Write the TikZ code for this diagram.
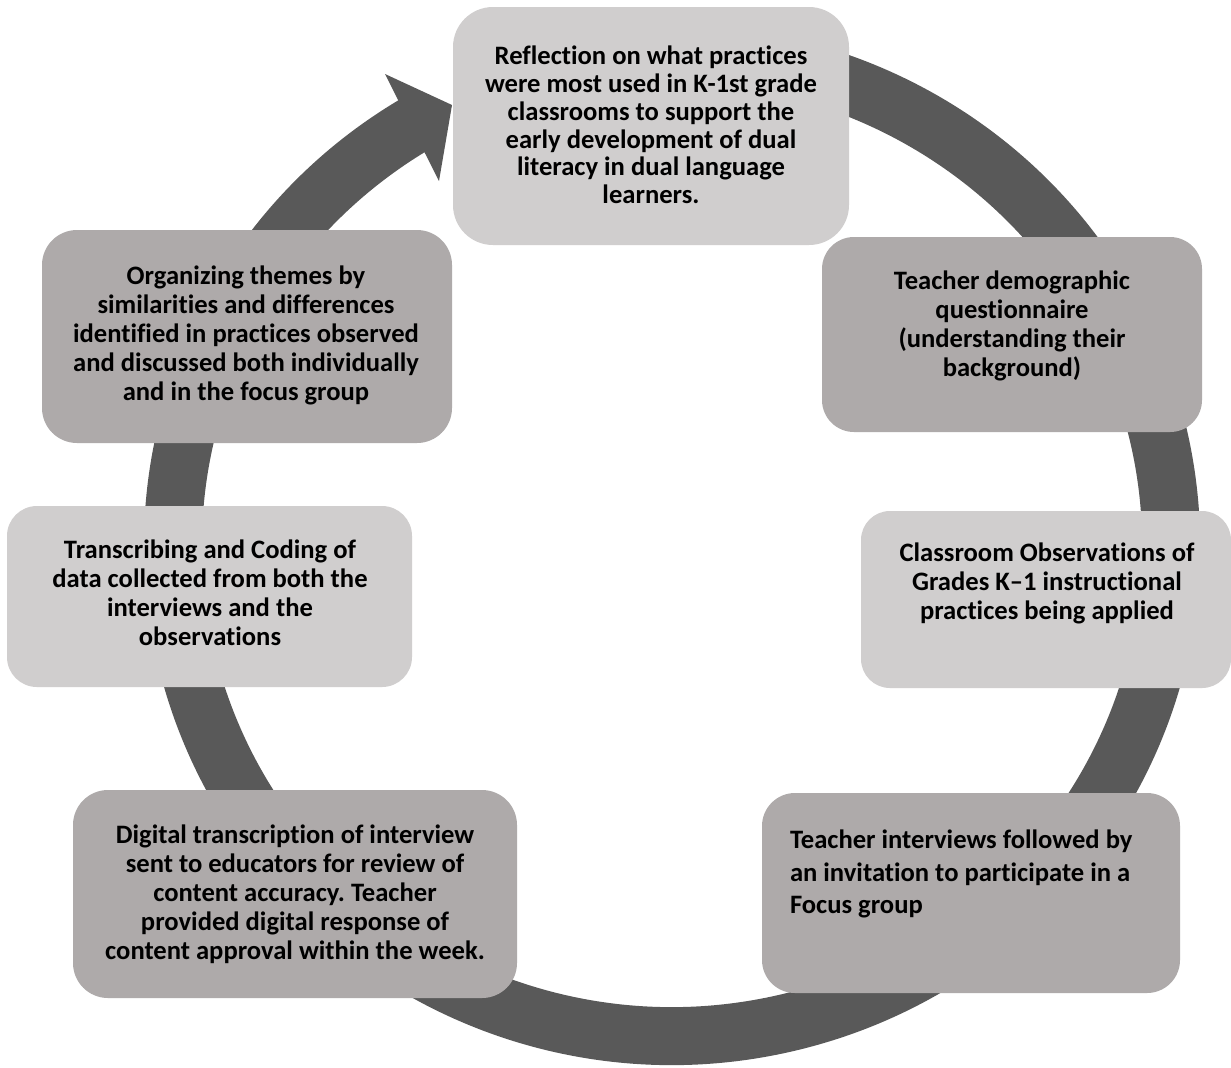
\documentclass[tikz,border=0pt]{standalone}
\usepackage{fontspec}
\setmainfont{Carlito}[Ligatures={NoCommon}]
\frenchspacing
\definecolor{ringcol}{HTML}{595959}
\definecolor{lightbox}{HTML}{D0CECE}
\definecolor{darkbox}{HTML}{AEAAAA}
\tikzset{
  ringline/.style={draw=ringcol, line width=29pt, line cap=butt},
  box/.style={draw=none, inner sep=0pt, outer sep=0pt},
  txt/.style={inner sep=0pt, outer sep=0pt, align=center, text=black,
    font=\bfseries\fontsize{13.3pt}{14.5pt}\selectfont},
}
\begin{document}
\begin{tikzpicture}[x=0.5pt, y=0.5pt]
\useasboundingbox (0,0) rectangle (1231,-1067);
\fill[white] (0,0) rectangle (1231,-1067);
% circular arrow
\coordinate (C) at (672,-545);
\draw[ringline] (C) ++(105:249.5pt and 245.5pt)
  arc[start angle=105, end angle=-239.5, x radius=249.5pt, y radius=245.5pt];
\coordinate (h1) at (385,-74);
\coordinate (h2) at (452,-105);
\coordinate (h3) at (439,-181);
\fill[ringcol] (h1) -- (h2) -- (h3) -- cycle;
% boxes
\node[box, fill=lightbox, minimum width=198pt, minimum height=119pt, rounded corners=20pt] (refl) at (651,-126) {};
\node[box, fill=darkbox, minimum width=190pt, minimum height=97.5pt, rounded corners=16pt] (demo) at (1012,-334.5) {};
\node[box, fill=lightbox, minimum width=185pt, minimum height=88.5pt, rounded corners=14.5pt] (obs) at (1046,-599.5) {};
\node[box, fill=darkbox, minimum width=209pt, minimum height=100pt, rounded corners=16.5pt] (intv) at (971,-893) {};
\node[box, fill=darkbox, minimum width=222pt, minimum height=104pt, rounded corners=17.5pt] (digi) at (295,-894) {};
\node[box, fill=lightbox, minimum width=202.5pt, minimum height=90.5pt, rounded corners=15pt] (trans) at (209.5,-596.5) {};
\node[box, fill=darkbox, minimum width=205pt, minimum height=106.5pt, rounded corners=17.5pt] (org) at (247,-336.5) {};
% texts
\node[txt, font=\bfseries\fontsize{13.3pt}{13.85pt}\selectfont] (t1) at (651,-125) {Reflection on what practices\\were most used in K-1st grade\\classrooms to support the\\early development of dual\\literacy in dual language\\learners.};
\node[txt] (t2) at (1012,-326) {Teacher demographic\\questionnaire\\(understanding their\\background)};
\node[txt] (t3) at (1047,-583) {Classroom Observations of\\Grades K–1 instructional\\practices being applied};
\node[txt, align=left, anchor=west, font=\bfseries\fontsize{13.3pt}{16.25pt}\selectfont] (t4) at (790,-874) {Teacher interviews followed by\\an invitation to participate in a\\Focus group};
\node[txt] (t5) at (295,-894) {Digital transcription of interview\\sent to educators for review of\\content accuracy. Teacher\\provided digital response of\\content approval within the week.};
\node[txt] (t6) at (210,-593) {Transcribing and Coding of\\data collected from both the\\interviews and the\\observations};
\node[txt] (t7) at (246,-335) {Organizing themes by\\similarities and differences\\identified in practices observed\\and discussed both individually\\and in the focus group};
\end{tikzpicture}
\end{document}
